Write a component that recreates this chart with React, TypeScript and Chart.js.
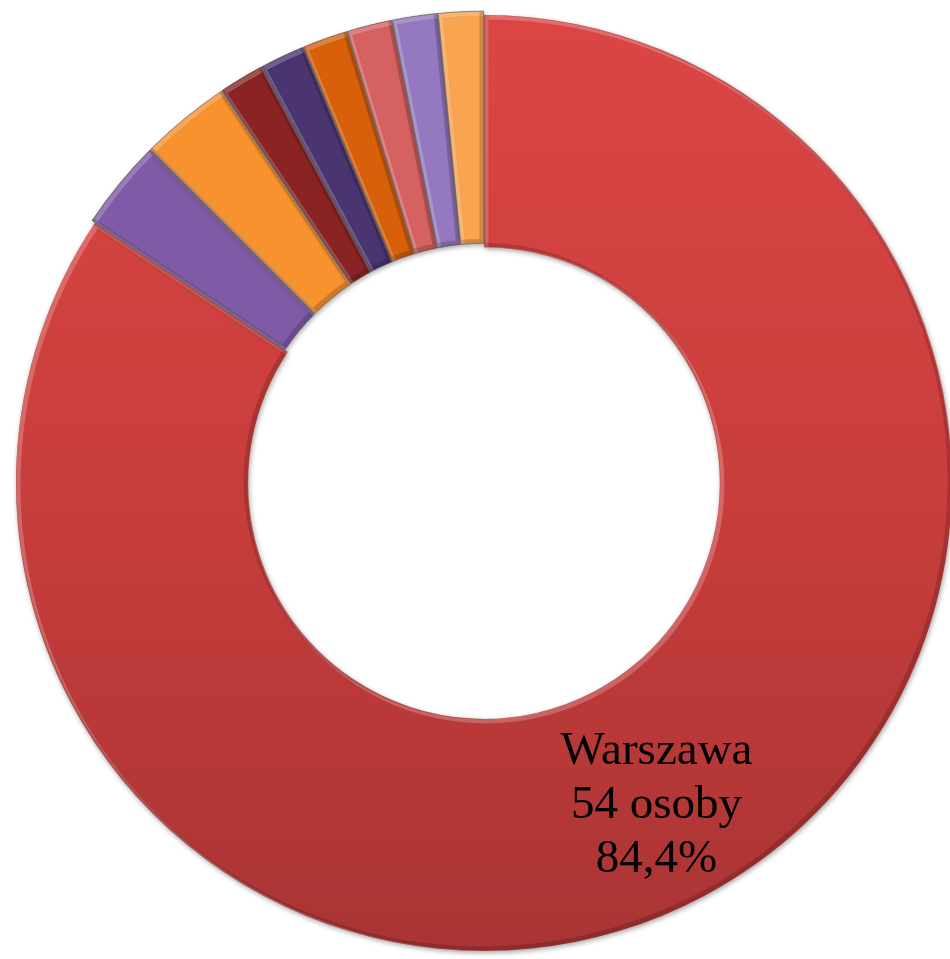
import React, { useEffect, useRef } from "react";
import { Chart, registerables } from "chart.js";

Chart.register(...registerables);

const categories = ["Warszawa", "Miejscowość 2", "Miejscowość 3", "Miejscowość 4", "Miejscowość 5", "Miejscowość 6", "Miejscowość 7", "Miejscowość 8", "Miejscowość 9"];
const persons = [54, 2, 2, 1, 1, 1, 1, 1, 1];
const sliceColors = ["#c93f3d", "#7f5aa6", "#f7922f", "#8a2424", "#4a3571", "#d8600a", "#d66161", "#9479c0", "#f8a451"];
const sliceOffsets = [0, 8, 8, 8, 8, 8, 8, 8, 8];
const mainLabelLines = ["Warszawa", "54 osoby", "84,4%"];

function arcPath(ctx: CanvasRenderingContext2D, el: any) {
  const p = el.getProps(["x", "y", "startAngle", "endAngle", "innerRadius", "outerRadius", "circumference"], true);
  const off = (el.options.offset || 0) / 4;
  const half = (p.startAngle + p.endAngle) / 2;
  const fix = 1 - Math.sin(Math.min(Math.PI, p.circumference || 0));
  const ro = off * fix;
  const cx = p.x + Math.cos(half) * off;
  const cy = p.y + Math.sin(half) * off;
  ctx.beginPath();
  ctx.arc(cx, cy, p.outerRadius + ro, p.startAngle, p.endAngle);
  ctx.arc(cx, cy, p.innerRadius + ro, p.endAngle, p.startAngle, true);
  ctx.closePath();
}

const shadowPlugin = {
  id: "shadowPlugin",
  beforeDatasetDraw(chart: any) {
    const ctx = chart.ctx;
    ctx.save();
    ctx.shadowColor = "rgba(0,0,0,0.35)";
    ctx.shadowBlur = 5;
    ctx.shadowOffsetX = 1;
    ctx.shadowOffsetY = 2;
  },
  afterDatasetDraw(chart: any) {
    chart.ctx.restore();
  },
};

const bevelPlugin = {
  id: "bevelPlugin",
  afterDatasetsDraw(chart: any) {
    const ctx = chart.ctx;
    const meta = chart.getDatasetMeta(0);
    meta.data.forEach((el: any) => {
      ctx.save();
      arcPath(ctx, el);
      ctx.clip();
      ctx.save();
      ctx.translate(2, 2);
      arcPath(ctx, el);
      ctx.lineWidth = 5;
      ctx.strokeStyle = "rgba(255,255,255,0.22)";
      ctx.stroke();
      ctx.restore();
      ctx.save();
      ctx.translate(-2, -2);
      arcPath(ctx, el);
      ctx.lineWidth = 5;
      ctx.strokeStyle = "rgba(0,0,0,0.16)";
      ctx.stroke();
      ctx.restore();
      ctx.restore();
    });
  },
};

const labelPlugin = {
  id: "labelPlugin",
  afterDraw(chart: any) {
    const ctx = chart.ctx;
    const el: any = chart.getDatasetMeta(0).data[0];
    if (!el) return;
    const p = el.getProps(["x", "y", "startAngle", "endAngle", "innerRadius", "outerRadius"], true);
    const mid = (p.startAngle + p.endAngle) / 2;
    const r = p.innerRadius + (p.outerRadius - p.innerRadius) * 0.56;
    const cx = p.x + Math.cos(mid) * r;
    const cy = p.y + Math.sin(mid) * r;
    ctx.save();
    ctx.font = '47px "Liberation Serif", "Times New Roman", serif';
    ctx.fillStyle = "#000000";
    ctx.textAlign = "center";
    ctx.textBaseline = "middle";
    const lh = 54;
    mainLabelLines.forEach((t, i) => {
      ctx.fillText(t, cx, cy + (i - (mainLabelLines.length - 1) / 2) * lh);
    });
    ctx.restore();
  },
};

export default function App() {
  const ref = useRef<HTMLCanvasElement>(null);
  useEffect(() => {
    if (!ref.current) return;
    const chart = new Chart(ref.current, {
      type: "doughnut",
      data: {
        labels: categories,
        datasets: [
          {
            data: persons,
            backgroundColor: (c: any) => {
              const i = c.dataIndex;
              const area = c.chart.chartArea;
              if (i !== 0 || !area) return sliceColors[i];
              const g = c.chart.ctx.createLinearGradient(0, area.top, 0, area.bottom);
              g.addColorStop(0, "#db4645");
              g.addColorStop(0.5, "#c83e3c");
              g.addColorStop(1, "#a93434");
              return g;
            },
            borderColor: persons.map((_, i) => (i === 0 ? "rgba(0,0,0,0)" : "rgba(50,25,25,0.45)")),
            borderWidth: persons.map((_, i) => (i === 0 ? 0 : 1)),
            offset: sliceOffsets,
          },
        ],
      },
      options: {
        animation: false,
        responsive: false,
        maintainAspectRatio: false,
        radius: 468,
        cutout: "50.4%",
        layout: { padding: { left: 18, right: 0, top: 7, bottom: 0 } },
        plugins: {
          legend: { display: false },
          tooltip: { enabled: false },
        },
      },
      plugins: [shadowPlugin, bevelPlugin, labelPlugin],
    });
    return () => chart.destroy();
  }, []);
  return (
    <div style={{ position: "fixed", left: 0, top: 0, width: 950, height: 959, background: "#ffffff" }}>
      <canvas ref={ref} width={950} height={959} style={{ width: 950, height: 959, display: "block" }} />
    </div>
  );
}
